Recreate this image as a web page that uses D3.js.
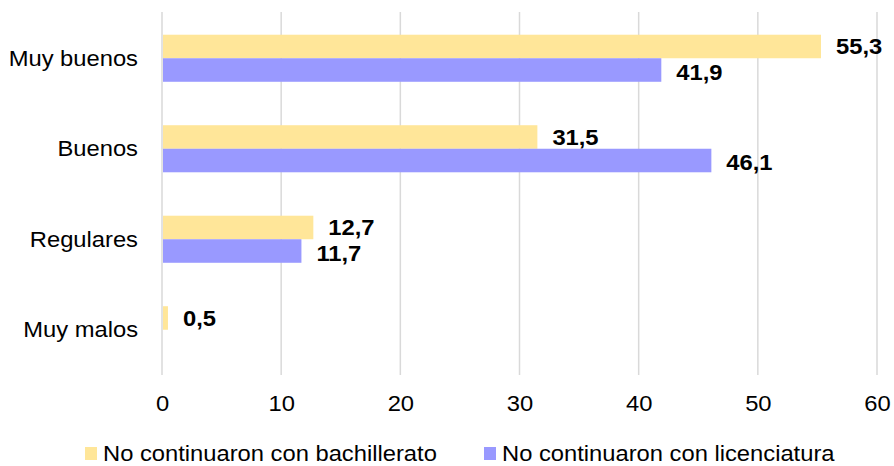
<html>
<head>
<meta http-equiv="Content-Type" content="text/html; charset=utf-8" />
<script src="https://cdn.jsdelivr.net/npm/d3@7/dist/d3.min.js"></script>
<style type="text/css">
body { margin: 0; background: #fff; }
svg text { font-family: "Liberation Sans", Arial, sans-serif; fill: #000; }
</style>
</head>
<body>
<svg width="894" height="466"></svg>
<script type="text/javascript">
	var v_Categorias  = ["Muy buenos", "Buenos", "Regulares", "Muy malos"];
	var v_Bachillerato = [55.3, 31.5, 12.7, 0.5];
	var v_Licenciatura = [41.9, 46.1, 11.7, null];
	var v_Series      = ["No continuaron con bachillerato", "No continuaron con licenciatura"];
	var v_Ticks       = [0, 10, 20, 30, 40, 50, 60];
	var v_Colores     = ["#FFE699", "#9999FF"];

	var v_SVG = d3.select("svg");
	var v_Plot = {top: 12, bottom: 375, left: 162, right: 877};
	var v_Stretch = 1.08;   // el texto del original esta algo ensanchado

	// coloca un texto en (x,y) con el ensanchado horizontal
	function f_Pos(x, y)
	{
		return "translate(" + x + "," + y + ") scale(" + v_Stretch + ",1)";
	}

	var v_xScale = d3.scaleLinear().domain([0, 60]).range([v_Plot.left, v_Plot.right]);
	var v_yScale = d3.scaleBand().domain(v_Categorias)
	                 .range([v_Plot.top + 1, v_Plot.bottom])
	                 .paddingInner(0.48).paddingOuter(0.24);
	var v_ySub   = d3.scaleBand().domain([0, 1]).range([0, v_yScale.bandwidth()]);

	// grid
	v_SVG.append("g").selectAll("line").data(v_Ticks).enter().append("line")
	  .attr("x1", function(d) { return v_xScale(d); })
	  .attr("x2", function(d) { return v_xScale(d); })
	  .attr("y1", v_Plot.top)
	  .attr("y2", v_Plot.bottom)
	  .attr("stroke", "#D9D9D9")
	  .attr("stroke-width", 1.5);

	// x axis labels
	var v_XAxis = d3.axisBottom(v_xScale).tickValues(v_Ticks).tickSize(0).tickPadding(0);
	var v_GX = v_SVG.append("g")
	  .attr("transform", "translate(0," + (v_Plot.bottom + 20) + ")")
	  .call(v_XAxis);
	v_GX.select(".domain").remove();
	v_GX.selectAll("text")
	  .attr("font-size", "22px")
	  .attr("font-family", "\"Liberation Sans\", Arial, sans-serif")
	  .attr("transform", "scale(" + v_Stretch + ",1)");

	// category labels
	v_SVG.append("g").selectAll("text").data(v_Categorias).enter().append("text")
	  .attr("transform", function(d) { return f_Pos(138, v_yScale(d) + v_yScale.bandwidth() / 2); })
	  .attr("dy", "0.35em")
	  .attr("text-anchor", "end")
	  .attr("font-size", "22px")
	  .text(function(d) { return d; });

	// bars
	var v_Datos = [v_Bachillerato, v_Licenciatura];
	v_Datos.forEach(function(v_Serie, s)
	{
		var v_Rows = v_Serie.map(function(v, i) { return {cat: v_Categorias[i], v: v}; })
		                    .filter(function(d) { return d.v != null; });
		var g = v_SVG.append("g");
		g.selectAll("rect").data(v_Rows).enter().append("rect")
		  .attr("x", v_xScale(0) + 1)
		  .attr("y", function(d) { return v_yScale(d.cat) + v_ySub(s); })
		  .attr("width", function(d) { return v_xScale(d.v) - v_xScale(0) - 1; })
		  .attr("height", v_ySub.bandwidth())
		  .attr("fill", v_Colores[s]);
		g.selectAll("text").data(v_Rows).enter().append("text")
		  .attr("transform", function(d)
		  {
			  return f_Pos(v_xScale(d.v) + 15, v_yScale(d.cat) + v_ySub(s) + v_ySub.bandwidth() / 2 + (s == 1 ? 2 : 0));
		  })
		  .attr("dy", "0.36em")
		  .attr("font-size", "22px")
		  .attr("font-weight", "bold")
		  .text(function(d) { return String(d.v).replace(".", ","); });
	});

	// legend
	var v_LegX = [85, 484];
	var v_Leg = v_SVG.append("g").selectAll("g").data(v_Series).enter().append("g")
	  .attr("transform", function(d, i) { return "translate(" + v_LegX[i] + ",447)"; });
	v_Leg.append("rect").attr("width", 12).attr("height", 13)
	  .attr("fill", function(d, i) { return v_Colores[i]; });
	v_Leg.append("text")
	  .attr("transform", f_Pos(18, 6.5))
	  .attr("dy", "0.36em")
	  .attr("font-size", "22px")
	  .text(function(d) { return d; });
</script>
</body>
</html>
